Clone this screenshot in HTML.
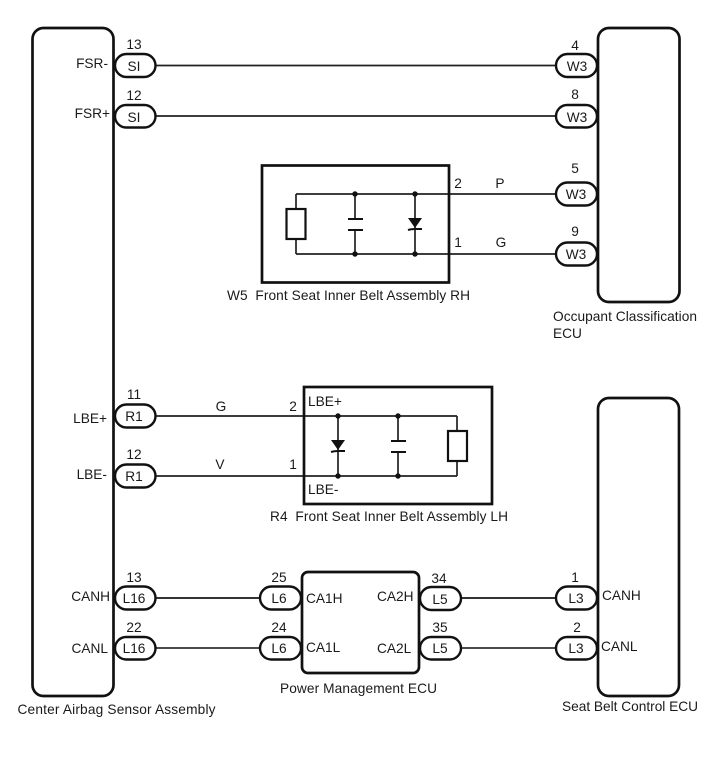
<!DOCTYPE html>
<html><head><meta charset="utf-8"><style>
html,body{margin:0;padding:0;background:#fff}
svg{display:block}
text{font-family:"Liberation Sans",sans-serif;font-size:13.7px;fill:#1a1a1a}
.m{text-anchor:middle}.e{text-anchor:end}
.b{fill:#fff;stroke:#111;stroke-width:2.7}
.w{fill:none;stroke:#222;stroke-width:1.7}
</style></head><body>
<svg width="713" height="782" viewBox="0 0 713 782" xmlns="http://www.w3.org/2000/svg">
<rect width="713" height="782" fill="#fff"/>
<!-- wires -->
<g class="w">
<path d="M155 65.500H556M155 116H556"/>
<path d="M296 194H556M296 254H556"/>
<path d="M155 416H457M155 476H457"/>
<path d="M296 194V209M296 239V254"/>
<path d="M355 194V219M355 230V254M415 194V254"/>
<path d="M398 416V441M398 452V476M338 416V476M457 416V431M457 461V476"/>
<path style="stroke-width:2.100;stroke:#333" d="M155 598H260M461 598H556"/>
<path style="stroke-width:1.800;stroke:#333" d="M155 648H260M461 648H556"/>
</g>
<!-- main boxes -->
<rect class="b" x="32.500" y="28" width="81" height="668" rx="11"/>
<rect class="b" x="598" y="28" width="81.500" height="274" rx="11"/>
<rect class="b" x="598" y="398" width="81" height="298" rx="11"/>
<rect class="b" style="fill:none" x="262" y="165.500" width="187" height="117"/>
<rect class="b" style="fill:none" x="304" y="387" width="188" height="117"/>
<rect class="b" x="302" y="572" width="117" height="101" rx="6"/>
<!-- components -->
<rect x="286.500" y="209" width="19" height="30" fill="#fff" stroke="#111" stroke-width="2.200"/>
<rect x="448" y="431" width="19" height="30" fill="#fff" stroke="#111" stroke-width="2.200"/>
<g stroke="#111" stroke-width="2.100" fill="none">
<path d="M348 219H363M348 230H363M391 441H406M391 452H406"/>
<path d="M408 230Q411 229 415 229T422 229M331 452Q334 451 338 451T345 451"/>
</g>
<g fill="#111">
<path d="M408 218H422L415 228Z"/><path d="M331 440H345L338 450Z"/>
<circle cx="355" cy="194" r="2.700"/><circle cx="415" cy="194" r="2.700"/>
<circle cx="355" cy="254" r="2.700"/><circle cx="415" cy="254" r="2.700"/>
<circle cx="338" cy="416" r="2.700"/><circle cx="398" cy="416" r="2.700"/>
<circle cx="338" cy="476" r="2.700"/><circle cx="398" cy="476" r="2.700"/>
</g>
<!-- pills -->
<g fill="#fff" stroke="#111" stroke-width="2.400">
<rect x="115" y="54" width="40.500" height="23" rx="11.500"/>
<rect x="115" y="105" width="40.500" height="22.500" rx="11.250"/>
<rect x="115" y="404.500" width="40.500" height="23" rx="11.500"/>
<rect x="115" y="464.500" width="40.500" height="23" rx="11.500"/>
<rect x="115" y="586.500" width="40.500" height="23" rx="11.500"/>
<rect x="115" y="637" width="40.500" height="22.500" rx="11.250"/>
<rect x="556" y="54" width="41" height="23" rx="11.500"/>
<rect x="556" y="105" width="41" height="22.500" rx="11.250"/>
<rect x="556" y="182.500" width="41" height="23" rx="11.500"/>
<rect x="556" y="242.500" width="41" height="23" rx="11.500"/>
<rect x="556" y="586.500" width="41" height="23" rx="11.500"/>
<rect x="556" y="637" width="41" height="22.500" rx="11.250"/>
<rect x="260" y="586.500" width="41" height="23" rx="11.500"/>
<rect x="260" y="637" width="41" height="22.500" rx="11.250"/>
<rect x="420" y="587" width="41" height="23" rx="11.500"/>
<rect x="420" y="637" width="41" height="22.500" rx="11.250"/>
</g>
<!-- pin numbers and connector names -->
<text class="m" x="134" y="49">13</text><text class="m" x="134" y="71">SI</text>
<text class="m" x="134" y="100">12</text><text class="m" x="134" y="122">SI</text>
<text class="m" x="134" y="399">11</text><text class="m" x="134" y="421">R1</text>
<text class="m" x="134" y="459">12</text><text class="m" x="134" y="481">R1</text>
<text class="m" x="134" y="582">13</text><text class="m" x="134" y="603">L16</text>
<text class="m" x="134" y="632">22</text><text class="m" x="134" y="653">L16</text>
<text class="m" x="575" y="50">4</text><text class="m" x="577" y="71">W3</text>
<text class="m" x="575" y="99">8</text><text class="m" x="577" y="122">W3</text>
<text class="m" x="575" y="173">5</text><text class="m" x="576" y="199">W3</text>
<text class="m" x="575" y="236">9</text><text class="m" x="576" y="259">W3</text>
<text class="m" x="279" y="582">25</text><text class="m" x="279" y="603">L6</text>
<text class="m" x="279" y="632">24</text><text class="m" x="279" y="653">L6</text>
<text class="m" x="439" y="583">34</text><text class="m" x="440" y="604">L5</text>
<text class="m" x="440" y="632">35</text><text class="m" x="440" y="653">L5</text>
<text class="m" x="575" y="582">1</text><text class="m" x="576" y="603">L3</text>
<text class="m" x="577" y="632">2</text><text class="m" x="576" y="653">L3</text>
<text class="m" x="458" y="188">2</text><text class="m" x="458" y="247">1</text>
<text class="m" x="293" y="411">2</text><text class="m" x="293" y="469">1</text>
<text class="m" x="500" y="188">P</text><text class="m" x="501" y="247">G</text>
<text class="m" x="221" y="411">G</text><text class="m" x="220" y="469">V</text>
<!-- signal labels -->
<text class="e" x="108" y="68">FSR-</text>
<text class="e" x="110" y="118">FSR+</text>
<text class="e" x="107" y="423">LBE+</text>
<text class="e" x="107" y="479">LBE-</text>
<text class="e" x="110" y="601">CANH</text>
<text class="e" x="108" y="653">CANL</text>
<text x="308" y="406">LBE+</text>
<text x="308" y="494">LBE-</text>
<text x="306" y="603">CA1H</text>
<text x="306" y="652">CA1L</text>
<text x="377" y="601">CA2H</text>
<text x="377" y="653">CA2L</text>
<text x="602" y="600">CANH</text>
<text x="601" y="651">CANL</text>
<!-- captions -->
<text x="17.500" y="714" textLength="198" lengthAdjust="spacing">Center Airbag Sensor Assembly</text>
<text x="227" y="300" textLength="243" lengthAdjust="spacing" xml:space="preserve">W5  Front Seat Inner Belt Assembly RH</text>
<text x="270" y="521" textLength="238" lengthAdjust="spacing" xml:space="preserve">R4  Front Seat Inner Belt Assembly LH</text>
<text x="280" y="693" textLength="157" lengthAdjust="spacing">Power Management ECU</text>
<text x="562" y="711" textLength="136" lengthAdjust="spacing">Seat Belt Control ECU</text>
<text x="553" y="321" textLength="144" lengthAdjust="spacing">Occupant Classification</text>
<text x="553" y="338">ECU</text>
</svg>
</body></html>
